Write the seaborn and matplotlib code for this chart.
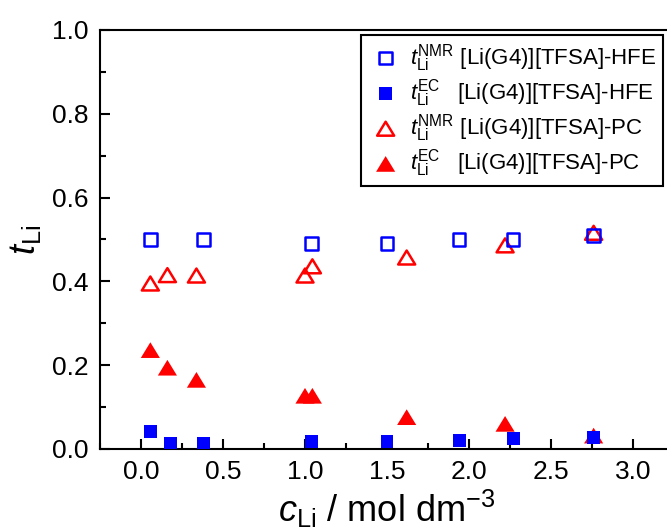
import matplotlib
matplotlib.use("Agg")
import matplotlib.pyplot as plt
import seaborn as sns
from matplotlib.path import Path
from matplotlib.ticker import MultipleLocator

# datos
x_hfe_nmr = [0.057, 0.38, 1.04, 1.50, 1.94, 2.27, 2.76]
t_hfe_nmr = [0.50, 0.50, 0.49, 0.49, 0.50, 0.50, 0.51]

x_hfe_ec = [0.057, 0.18, 0.38, 1.04, 1.50, 1.94, 2.27, 2.76]
t_hfe_ec = [0.041, 0.014, 0.014, 0.017, 0.017, 0.021, 0.026, 0.028]

x_pc_nmr = [0.057, 0.161, 0.338, 1.00, 1.045, 1.62, 2.22, 2.76]
t_pc_nmr = [0.395, 0.415, 0.414, 0.414, 0.436, 0.457, 0.486, 0.516]

x_pc_ec = [0.057, 0.161, 0.338, 1.00, 1.045, 1.62, 2.22, 2.76]
t_pc_ec = [0.236, 0.194, 0.165, 0.127, 0.127, 0.076, 0.060, 0.032]

sns.set_style("ticks")
plt.rcParams["font.family"] = ["Liberation Sans", "DejaVu Sans"]
plt.rcParams["mathtext.fontset"] = "custom"
plt.rcParams["mathtext.rm"] = "Liberation Sans"
plt.rcParams["mathtext.it"] = "Liberation Sans:italic"
for clave in ["text.color", "axes.labelcolor", "xtick.color", "ytick.color"]:
    plt.rcParams[clave] = "black"

azul = "#0000FF"
rojo = "#FF0000"
# triangulo algo achatado, como en el original
triangulo = Path([(0, 0.82), (-1, -0.82), (1, -0.82), (0, 0.82)], closed=True)

fig = plt.figure(figsize=(6.67, 5.31), dpi=100)
ax = fig.add_axes([100 / 667, (531 - 449) / 531, (674 - 100) / 667, (449 - 30) / 531])

sns.scatterplot(x=x_hfe_nmr, y=t_hfe_nmr, ax=ax, marker="s", s=80,
                facecolors="none", edgecolor=azul, linewidth=1.8,
                label=r"$t_{\rm Li}^{\rm NMR}$ [Li(G4)][TFSA]-HFE", zorder=4)
sns.scatterplot(x=x_hfe_ec, y=t_hfe_ec, ax=ax, marker="s", s=85,
                color=azul, edgecolor="none", linewidth=0,
                label=r"$t_{\rm Li}^{\rm EC}\ \;$ [Li(G4)][TFSA]-HFE", zorder=4)
sns.scatterplot(x=x_pc_nmr, y=t_pc_nmr, ax=ax, marker=triangulo, s=150,
                facecolors="none", edgecolor=rojo, linewidth=1.8,
                label=r"$t_{\rm Li}^{\rm NMR}$ [Li(G4)][TFSA]-PC", zorder=3)
sns.scatterplot(x=x_pc_ec, y=t_pc_ec, ax=ax, marker=triangulo, s=190,
                color=rojo, edgecolor="none", linewidth=0,
                label=r"$t_{\rm Li}^{\rm EC}\ \;$ [Li(G4)][TFSA]-PC", zorder=3)

ax.set_xlim(-0.25, 3.25)
ax.set_ylim(0, 1.0)
ax.xaxis.set_major_locator(MultipleLocator(0.5))
ax.xaxis.set_minor_locator(MultipleLocator(0.25))
ax.yaxis.set_major_locator(MultipleLocator(0.2))
ax.yaxis.set_minor_locator(MultipleLocator(0.1))
ax.tick_params(which="both", direction="in", top=False, right=False,
               width=1.5, color="black", labelcolor="black")
ax.tick_params(which="major", length=7, labelsize=19, pad=8)
ax.tick_params(which="minor", length=4)

for lado in ["left", "bottom", "top"]:
    ax.spines[lado].set_linewidth(1.5)
    ax.spines[lado].set_color("black")
ax.spines["right"].set_visible(False)

ax.set_xlabel(r"$c_{\rm Li}$ / mol dm$^{-3}$", fontsize=26, labelpad=3)
ax.set_ylabel(r"$t_{\rm Li}$", fontsize=26, labelpad=7)

ley = ax.legend(loc="upper right", bbox_to_anchor=(663 / 667, 1 - 35 / 531),
                bbox_transform=fig.transFigure, borderaxespad=0,
                fontsize=16, frameon=True, fancybox=False, framealpha=1,
                edgecolor="black", handletextpad=0.3, labelspacing=0.15,
                borderpad=0.3, handlelength=1.6)
ley.get_frame().set_linewidth(1.5)

fig.savefig("out.png", dpi=100)
